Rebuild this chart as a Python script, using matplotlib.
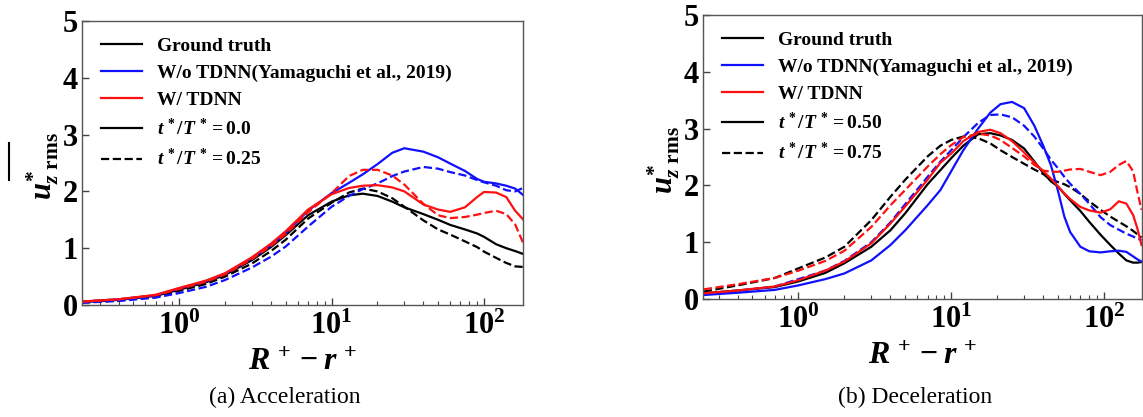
import matplotlib
matplotlib.use("Agg")
import matplotlib.pyplot as plt
from matplotlib.lines import Line2D

# fonts: Times-like bold serif everywhere
plt.rcParams['font.family'] = 'Liberation Serif'
plt.rcParams['font.weight'] = 'bold'
plt.rcParams['mathtext.fontset'] = 'custom'
plt.rcParams['mathtext.rm'] = 'Liberation Serif:bold'
plt.rcParams['mathtext.it'] = 'Liberation Serif:italic:bold'
plt.rcParams['mathtext.bf'] = 'Liberation Serif:bold'

# ---- (a) Acceleration ----
x_acc = [0.23, 0.4, 0.7, 1, 1.5, 2, 3, 4, 5, 7, 10, 13, 16, 20, 25, 30,
         40, 50, 60, 75, 90, 100, 120, 140, 160, 180]
acc_gt_00 = [0.05, 0.09, 0.16, 0.27, 0.40, 0.53, 0.79, 1.02, 1.23, 1.58, 1.82, 1.93, 1.96,
             1.92, 1.82, 1.72, 1.60, 1.50, 1.41, 1.33, 1.26, 1.20, 1.07, 1.00, 0.95, 0.90]
acc_gt_025 = [0.04, 0.08, 0.14, 0.25, 0.37, 0.50, 0.73, 0.95, 1.15, 1.52, 1.80, 1.98, 2.05,
              2.00, 1.88, 1.73, 1.49, 1.33, 1.24, 1.12, 1.02, 0.94, 0.83, 0.74, 0.68, 0.67]
acc_wo_00 = [0.06, 0.10, 0.17, 0.29, 0.42, 0.55, 0.82, 1.05, 1.27, 1.66, 1.97, 2.15, 2.30,
             2.48, 2.68, 2.76, 2.70, 2.60, 2.49, 2.36, 2.22, 2.17, 2.14, 2.10, 2.05, 1.94]
acc_wo_025 = [0.04, 0.07, 0.13, 0.21, 0.32, 0.44, 0.66, 0.85, 1.03, 1.38, 1.73, 1.92, 2.04,
              2.14, 2.27, 2.35, 2.43, 2.40, 2.34, 2.28, 2.20, 2.16, 2.10, 2.02, 2.00, 2.06]
acc_w_00 = [0.06, 0.10, 0.18, 0.30, 0.43, 0.56, 0.84, 1.08, 1.30, 1.68, 1.95, 2.06, 2.10,
            2.11, 2.07, 2.00, 1.77, 1.68, 1.64, 1.72, 1.90, 1.99, 1.98, 1.90, 1.66, 1.51]
acc_w_025 = [0.06, 0.10, 0.17, 0.28, 0.41, 0.54, 0.81, 1.04, 1.25, 1.63, 1.97, 2.27, 2.38,
             2.38, 2.28, 2.12, 1.78, 1.58, 1.53, 1.55, 1.59, 1.62, 1.66, 1.60, 1.42, 1.10]

# ---- (b) Deceleration ----
x_dec = [0.24, 0.4, 0.7, 1, 1.5, 2, 3, 4, 5, 7, 8.5, 10, 12, 15, 18, 21, 25, 30, 35, 40,
         45, 50, 55, 60, 70, 80, 95, 110, 125, 140, 155, 165, 176]
dec_gt_050 = [0.10, 0.15, 0.21, 0.31, 0.46, 0.63, 0.92, 1.21, 1.51, 2.02, 2.27, 2.48, 2.70,
              2.90, 2.92, 2.88, 2.80, 2.65, 2.42, 2.22, 2.07, 1.98, 1.85, 1.74, 1.55, 1.36,
              1.13, 0.95, 0.80, 0.68, 0.64, 0.64, 0.65]
dec_gt_075 = [0.13, 0.24, 0.37, 0.54, 0.73, 0.92, 1.39, 1.80, 2.10, 2.51, 2.70, 2.80, 2.86,
              2.83, 2.74, 2.62, 2.50, 2.38, 2.28, 2.20, 2.10, 2.06, 2.02, 1.97, 1.85, 1.72,
              1.57, 1.45, 1.36, 1.28, 1.20, 1.14, 1.08]
dec_wo_050 = [0.07, 0.11, 0.16, 0.24, 0.35, 0.45, 0.68, 0.95, 1.21, 1.65, 1.92, 2.25, 2.62,
              3.00, 3.28, 3.43, 3.47, 3.36, 3.05, 2.70, 2.35, 1.90, 1.45, 1.18, 0.92, 0.84,
              0.82, 0.84, 0.85, 0.83, 0.75, 0.70, 0.66]
dec_wo_075 = [0.09, 0.14, 0.22, 0.35, 0.50, 0.67, 1.00, 1.35, 1.67, 2.15, 2.42, 2.62, 2.85,
              3.10, 3.24, 3.25, 3.20, 3.05, 2.86, 2.65, 2.45, 2.30, 2.15, 2.03, 1.85, 1.68,
              1.44, 1.30, 1.22, 1.15, 1.10, 1.06, 1.04]
dec_w_050 = [0.10, 0.15, 0.22, 0.33, 0.50, 0.66, 0.98, 1.33, 1.63, 2.10, 2.40, 2.56, 2.78,
             2.94, 2.98, 2.92, 2.78, 2.58, 2.40, 2.25, 2.12, 1.98, 1.86, 1.76, 1.62, 1.56,
             1.52, 1.58, 1.72, 1.68, 1.48, 1.25, 0.95]
dec_w_075 = [0.17, 0.26, 0.37, 0.50, 0.67, 0.85, 1.27, 1.65, 1.92, 2.33, 2.55, 2.71, 2.85,
             2.91, 2.88, 2.80, 2.66, 2.51, 2.36, 2.26, 2.24, 2.24, 2.26, 2.28, 2.29, 2.24,
             2.18, 2.24, 2.36, 2.43, 2.25, 1.90, 1.57]

method_labels = ['Ground truth', 'W/o TDNN(Yamaguchi et al., 2019)', 'W/ TDNN']
method_colors = ['black', '#1010ff', '#ff1010']
xticks = [1, 10, 100]
xtick_labels = [r'$10^{0}$', r'$10^{1}$', r'$10^{2}$']
yticks = [0, 1, 2, 3, 4, 5]

fig = plt.figure(figsize=(11.43, 4.17), dpi=100)
ax1 = fig.add_axes([0.0717, 0.2686, 0.3858, 0.681])
ax2 = fig.add_axes([0.615, 0.283, 0.3837, 0.681])


def draw_panel(ax, x, curves, times, xlim, caption, cap_x):
    for (y, color, ls) in curves:
        ax.plot(x, y, color=color, linestyle=ls, linewidth=1.6)
    ax.set_xscale('log')
    ax.set_xlim(*xlim)
    ax.set_ylim(0, 5)
    ax.set_xticks(xticks)
    ax.set_xticklabels(xtick_labels)
    ax.set_yticks(yticks)
    ax.tick_params(axis='both', which='major', direction='in', length=5,
                   labelsize=22, width=1, pad=3, colors='#444444', labelcolor='black')
    ax.tick_params(axis='x', which='major', pad=5)
    ax.tick_params(axis='x', which='minor', direction='in', length=3, width=0.8,
                   colors='#444444')
    for s in ax.spines.values():
        s.set_color('#555555')
        s.set_linewidth(1.0)
    ax.set_xlabel(r'$R^{\,+} - r^{\,+}$', fontsize=23, labelpad=5)
    ax.set_ylabel(r'$u^{*}_{z\ \mathrm{rms}}$', fontsize=22)
    ax.yaxis.set_label_coords(-0.047, 0.49)

    handles = [Line2D([], [], color=c, lw=1.6) for c in method_colors]
    handles += [Line2D([], [], color='black', lw=1.6),
                Line2D([], [], color='black', lw=1.6, ls='--')]
    labels = method_labels + [r'$t^{\,*}/T^{\,*}=%s$' % t for t in times]
    ax.legend(handles, labels, loc='upper left', frameon=False, fontsize=14,
              handlelength=2.1, handletextpad=0.8, labelspacing=0.47,
              borderaxespad=0.3, bbox_to_anchor=(0.012, 0.99))
    fig.text(cap_x, 0.048, caption, fontsize=17, fontweight='normal',
             ha='center', va='center')


draw_panel(ax1, x_acc,
           [(acc_gt_00, 'black', '-'), (acc_gt_025, 'black', '--'),
            (acc_wo_00, method_colors[1], '-'), (acc_wo_025, method_colors[1], '--'),
            (acc_w_00, method_colors[2], '-'), (acc_w_025, method_colors[2], '--')],
           ['0.0', '0.25'], (0.23, 180), '(a) Acceleration', 285 / 1143)

draw_panel(ax2, x_dec,
           [(dec_gt_050, 'black', '-'), (dec_gt_075, 'black', '--'),
            (dec_wo_050, method_colors[1], '-'), (dec_wo_075, method_colors[1], '--'),
            (dec_w_050, method_colors[2], '-'), (dec_w_075, method_colors[2], '--')],
           ['0.50', '0.75'], (0.237, 176), '(b) Deceleration', 915 / 1143)

# stray overline of the left y label
fig.add_artist(Line2D([9 / 1143, 9 / 1143], [1 - 143 / 417, 1 - 180 / 417],
                      transform=fig.transFigure, color='black', lw=1.5))

fig.savefig('out.png', dpi=100)
